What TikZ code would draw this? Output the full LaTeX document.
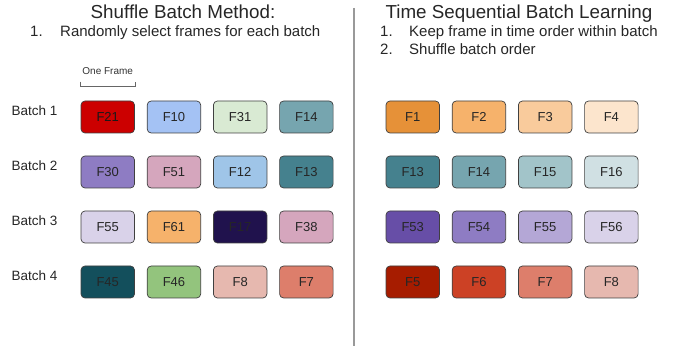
\documentclass[tikz,border=0pt]{standalone}
\usepackage{fontspec}
\setmainfont{Liberation Sans}
\usepackage{xcolor}
\usetikzlibrary{positioning}

\definecolor{fred}{HTML}{CC0000}
\definecolor{fblue}{HTML}{A4C2F4}
\definecolor{fgreen}{HTML}{D9EAD3}
\definecolor{fteal}{HTML}{76A5AF}
\definecolor{fviolet}{HTML}{8E7CC3}
\definecolor{fpink}{HTML}{D5A6BD}
\definecolor{fsky}{HTML}{9FC5E8}
\definecolor{fdteal}{HTML}{45818E}
\definecolor{flilac}{HTML}{D9D2E9}
\definecolor{forange}{HTML}{F6B26B}
\definecolor{fnavy}{HTML}{20124D}
\definecolor{fpetrol}{HTML}{134F5C}
\definecolor{fleaf}{HTML}{93C47D}
\definecolor{fsalmon}{HTML}{E6B8AF}
\definecolor{fcoral}{HTML}{DD7E6B}
\definecolor{fdorange}{HTML}{E69138}
\definecolor{fpeach}{HTML}{F9CB9C}
\definecolor{fcream}{HTML}{FCE5CD}
\definecolor{fmist}{HTML}{A2C4C9}
\definecolor{fpale}{HTML}{D0E0E3}
\definecolor{fdviolet}{HTML}{674EA7}
\definecolor{flavender}{HTML}{B4A7D6}
\definecolor{frust}{HTML}{A61C00}
\definecolor{fbrick}{HTML}{CC4125}

\begin{document}
\begin{tikzpicture}[
    x=1pt, y=1pt,
    node distance=22.3pt and 12pt,
    frame/.style={draw=black!75, line width=0.7pt, rounded corners=4pt, minimum width=53.5pt, minimum height=32pt, inner sep=0pt, text=black!85, font=\fontsize{13}{15}\selectfont},
    batch/.style={anchor=base east, inner sep=0pt, text=black!85, font=\fontsize{13.5}{16}\selectfont},
    title/.style={anchor=base, inner sep=0pt, text=black!85, font=\fontsize{18.8}{22}\selectfont},
    item/.style={anchor=base west, inner sep=0pt, text=black!85, font=\fontsize{15}{18}\selectfont},
    note/.style={anchor=base, inner sep=0pt, text=black!80, font=\fontsize{10}{12}\selectfont},
    bracket/.style={draw=black!60, line width=0.6pt},
    divider/.style={draw=black!40, line width=1.4pt}
]
\useasboundingbox (0,0) rectangle (675,348);

% headings
\node[title] (ltitle) at (183,329.7) {Shuffle Batch Method:};
\node[item] (lnum1) at (30,311.3) {1.};
\node[item] (ltext1) at (60,311.3) {Randomly select frames for each batch};
\node[title] (rtitle) at (519,329.7) {Time Sequential Batch Learning};
\node[item] (rnum1) at (380,311.3) {1.};
\node[item] (rtext1) at (409,311.3) {Keep frame in time order within batch};
\node[item] (rnum2) at (380,293.7) {2.};
\node[item] (rtext2) at (409,293.7) {Shuffle batch order};

% divider
\coordinate (dtop) at (354,340);
\coordinate (dbot) at (354,2);
\draw[divider] (dtop) -- (dbot);

% shuffled batches
\node[frame, fill=fred, text=black!90] (s21) at (107.75,231) {F21};
\node[frame, fill=fblue, right=of s21] (s10) {F10};
\node[frame, fill=fgreen, right=of s10] (s31) {F31};
\node[frame, fill=fteal, right=of s31] (s14) {F14};

\node[frame, fill=fviolet, below=of s21] (s30) {F30};
\node[frame, fill=fpink, right=of s30] (s51) {F51};
\node[frame, fill=fsky, right=of s51] (s12) {F12};
\node[frame, fill=fdteal, right=of s12] (s13) {F13};

\node[frame, fill=flilac, below=of s30] (s55) {F55};
\node[frame, fill=forange, right=of s55] (s61) {F61};
\node[frame, fill=fnavy, right=of s61] (s17) {F17};
\node[frame, fill=fpink, right=of s17] (s38) {F38};

\node[frame, fill=fpetrol, below=of s55] (s45) {F45};
\node[frame, fill=fleaf, right=of s45] (s46) {F46};
\node[frame, fill=fsalmon, right=of s46] (s8) {F8};
\node[frame, fill=fcoral, right=of s8] (s7) {F7};

\node[batch] (b1) at ([xshift=-23pt, yshift=1pt]s21.west) {Batch 1};
\node[batch] (b2) at ([xshift=-23pt, yshift=1pt]s30.west) {Batch 2};
\node[batch] (b3) at ([xshift=-23pt, yshift=1pt]s55.west) {Batch 3};
\node[batch] (b4) at ([xshift=-23pt, yshift=1pt]s45.west) {Batch 4};

% one frame bracket
\coordinate (bl) at ([yshift=14pt]s21.north west);
\coordinate (br) at ([yshift=14pt]s21.north east);
\draw[bracket] ([yshift=5pt]bl) -- (bl) -- (br) -- ([yshift=5pt]br);
\node[note] (oneframe) at ([yshift=26pt]s21.north) {One Frame};

% sequential batches
\node[frame, fill=fdorange] (t1) at (412.75,231) {F1};
\node[frame, fill=forange, right=of t1] (t2) {F2};
\node[frame, fill=fpeach, right=of t2] (t3) {F3};
\node[frame, fill=fcream, right=of t3] (t4) {F4};

\node[frame, fill=fdteal, below=of t1] (t13) {F13};
\node[frame, fill=fteal, right=of t13] (t14) {F14};
\node[frame, fill=fmist, right=of t14] (t15) {F15};
\node[frame, fill=fpale, right=of t15] (t16) {F16};

\node[frame, fill=fdviolet, below=of t13] (t53) {F53};
\node[frame, fill=fviolet, right=of t53] (t54) {F54};
\node[frame, fill=flavender, right=of t54] (t55) {F55};
\node[frame, fill=flilac, right=of t55] (t56) {F56};

\node[frame, fill=frust, below=of t53] (t5) {F5};
\node[frame, fill=fbrick, right=of t5] (t6) {F6};
\node[frame, fill=fcoral, right=of t6] (t7) {F7};
\node[frame, fill=fsalmon, right=of t7] (t8) {F8};
\end{tikzpicture}
\end{document}
